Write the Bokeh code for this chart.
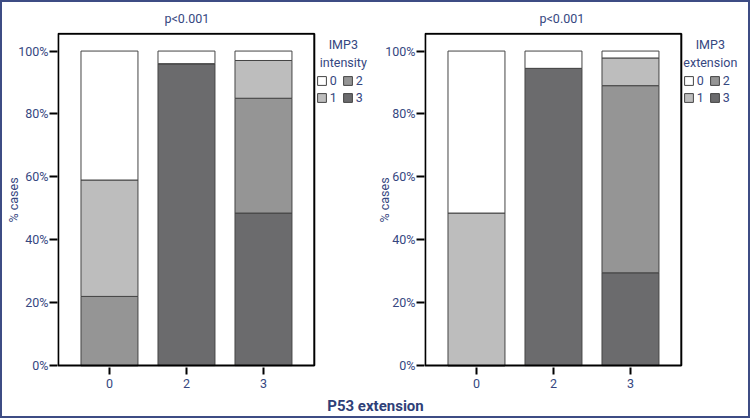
from bokeh.plotting import figure
from bokeh.models import (Range1d, FixedTicker, PrintfTickFormatter,
                          Legend, LegendItem, Label, ColumnDataSource)
from bokeh.layouts import row, column
from bokeh.embed import file_html
from bokeh.resources import INLINE

# ---------------- data ----------------
p53_levels = ["0", "2", "3"]
imp3_levels = ["0", "1", "2", "3"]

# left panel: IMP3 intensity (% of cases) by P53 extension
intensity_0 = [41.0, 4.0, 3.0]
intensity_1 = [37.0, 0.0, 12.0]
intensity_2 = [22.0, 0.0, 36.5]
intensity_3 = [0.0, 96.0, 48.5]

# right panel: IMP3 extension (% of cases) by P53 extension
extension_0 = [51.5, 5.5, 2.2]
extension_1 = [48.5, 0.0, 8.8]
extension_2 = [0.0, 0.0, 59.5]
extension_3 = [0.0, 94.5, 29.5]

y_ticks = [0, 20, 40, 60, 80, 100]
titles = ["p<0.001", "p<0.001"]
legend_titles = [["IMP3", "intensity"], ["IMP3", "extension"]]
x_label = "P53 extension"
y_label = "% cases"

# ---------------- style ----------------
FONT = "Roboto"
BLUE = "#36477f"
COLORS = {"0": "#ffffff", "1": "#bdbdbd", "2": "#959595", "3": "#6b6b6d"}
UNIT_PX = 77.0          # pixels per category slot
X0, X1 = -0.675, 2.66   # category-axis extent of the boxed panel
Y_TOP = 105.5


def make_panel(values, title, leg_title, width, left, title_offset, label_standoff):
    xs = list(range(len(p53_levels)))
    src = ColumnDataSource(dict(x=xs, **{k: v for k, v in zip(imp3_levels, values)}))
    frame_w = width - left
    p = figure(width=width, height=392, output_backend="svg", toolbar_location=None,
               x_range=Range1d(X0, X0 + frame_w / UNIT_PX),
               y_range=Range1d(-0.6, 105.9),
               min_border_left=left, min_border_right=0,
               min_border_top=29, min_border_bottom=27)
    stack = ["3", "2", "1", "0"]
    rs = p.vbar_stack(stack, x="x", width=0.74, source=src,
                      fill_color=[COLORS[s] for s in stack],
                      line_color="#444444", line_width=1)
    # panel box
    p.quad(left=[X0 + 0.01], right=[X1], bottom=[0], top=[Y_TOP],
           fill_color=None, line_color="black", line_width=2)

    p.title.text = title
    p.title.align = "left"
    p.title.offset = title_offset
    p.title.text_font = FONT
    p.title.text_font_size = "12.5px"
    p.title.text_font_style = "normal"
    p.title.text_color = BLUE
    p.title.standoff = 13

    p.outline_line_color = None
    p.xgrid.visible = False
    p.ygrid.visible = False
    p.background_fill_color = "white"
    p.border_fill_color = "white"

    ya = p.yaxis[0]
    ya.ticker = FixedTicker(ticks=y_ticks)
    ya.formatter = PrintfTickFormatter(format="%d%%")
    ya.minor_tick_line_color = None
    ya.axis_line_color = None
    ya.major_tick_out = 8
    ya.major_tick_in = 0
    ya.major_tick_line_width = 2
    ya.major_label_text_font = FONT
    ya.major_label_text_font_size = "12.5px"
    ya.major_label_text_color = BLUE
    ya.major_label_standoff = 1
    ya.axis_label = y_label
    ya.axis_label_text_font = FONT
    ya.axis_label_text_font_size = "12.5px"
    ya.axis_label_text_font_style = "normal"
    ya.axis_label_text_color = BLUE
    ya.axis_label_standoff = label_standoff

    xa = p.xaxis[0]
    xa.ticker = FixedTicker(ticks=xs)
    xa.major_label_overrides = {i: lab for i, lab in zip(xs, p53_levels)}
    xa.minor_tick_line_color = None
    xa.axis_line_color = None
    xa.major_tick_out = 7
    xa.major_tick_in = 0
    xa.major_tick_line_width = 2
    xa.major_label_text_font = FONT
    xa.major_label_text_font_size = "12.5px"
    xa.major_label_text_color = BLUE
    xa.major_label_standoff = 4

    by_level = dict(zip(stack, rs))
    items = [LegendItem(label=k, renderers=[by_level[k]]) for k in imp3_levels]
    box_right = (X1 - X0) * UNIT_PX
    leg = Legend(items=items, nrows=2, orientation="vertical",
                 location=(box_right + 2, 262), padding=0, margin=0, spacing=2,
                 glyph_width=11, glyph_height=11, label_standoff=3,
                 label_height=11, label_width=10,
                 label_text_font=FONT, label_text_font_size="12.5px",
                 label_text_color=BLUE, border_line_color=None,
                 background_fill_alpha=0, label_text_baseline="middle")
    p.add_layout(leg, "center")
    for i, t in enumerate(leg_title):
        p.add_layout(Label(x=box_right + 29, y=323 - 18 * i, x_units="screen",
                           y_units="screen", text=t, text_align="center",
                           text_baseline="middle", text_font=FONT,
                           text_font_size="12.5px", text_color=BLUE))
    return p


p1 = make_panel([intensity_0, intensity_1, intensity_2, intensity_3], titles[0],
                legend_titles[0], 370, 55, 107, -6)
p2 = make_panel([extension_0, extension_1, extension_2, extension_3], titles[1],
                legend_titles[1], 376, 52, 115, -10)

p3 = figure(width=746, height=22, output_backend="svg", toolbar_location=None,
            x_range=Range1d(0, 1), y_range=Range1d(0, 1), min_border=0)
p3.axis.visible = False
p3.grid.visible = False
p3.outline_line_color = None
p3.add_layout(Label(x=373, y=11, x_units="screen", y_units="screen", text=x_label,
                    text_align="center", text_baseline="middle", text_font=FONT,
                    text_font_size="15px", text_font_style="bold", text_color="#2f3f78"))

layout = column(row(p1, p2), p3, styles={"border": "2px solid #3d4c84"})

open("out.html", "w").write(file_html(layout, INLINE))
